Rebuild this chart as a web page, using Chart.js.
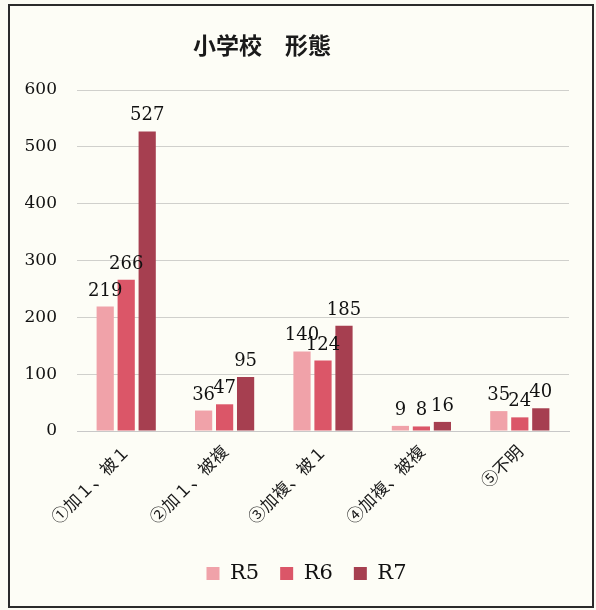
<!DOCTYPE html>
<html>
<head>
<meta charset="utf-8">
<script src="https://cdn.jsdelivr.net/npm/chart.js@4/dist/chart.umd.min.js"></script>
<style>
    html, body { margin: 0; padding: 0; background: #fcfcf4; }
    #frame {
        position: absolute; left: 8px; top: 4px;
        width: 582px; height: 600px;
        border: 2px solid #2b2b2b;
        background: #fdfdf6;
    }
    canvas { display: block; }
</style>
</head>
<body>
<div id="frame"><canvas id="formChart" width="582" height="600"></canvas></div>
<script>
const chartTitle = '小学校　形態';
const categories = ['①加１、被１', '②加１、被複', '③加複、被１', '④加複、被複', '⑤不明'];
const seriesNames = ['R5', 'R6', 'R7'];
const valuesR5 = [219, 36, 140, 9, 35];
const valuesR6 = [266, 47, 124, 8, 24];
const valuesR7 = [527, 95, 185, 16, 40];
const yTicks = [0, 100, 200, 300, 400, 500, 600];

const colors = ['#f0a2a9', '#db5668', '#a63f50'];
const serif = '"DejaVu Serif", "Liberation Serif", serif';
const cjk = '"Noto Sans CJK JP", "Noto Sans", sans-serif';

/* Titel links von der Mitte, wie im Original */
const titlePlugin = {
    id: 'offsetTitle',
    afterDraw(chart) {
        const ctx = chart.ctx;
        ctx.save();
        ctx.font = 'bold 23px ' + cjk;
        ctx.fillStyle = '#1a1a1a';
        ctx.textAlign = 'center';
        ctx.textBaseline = 'middle';
        ctx.fillText(chartTitle, 252, 39);
        ctx.restore();
    }
};

/* Legende etwas nach rechts, wie im Original */
const legendShift = {
    id: 'legendShift',
    beforeDraw(chart) {
        if (chart.legend && !chart.legend._shifted) {
            chart.legend.left += 17;
            chart.legend.right += 17;
            chart.legend._shifted = true;
        }
    }
};

/* Werte über den Balken */
const valueLabels = {
    id: 'valueLabels',
    afterDatasetsDraw(chart) {
        const ctx = chart.ctx;
        ctx.save();
        ctx.font = '18px ' + serif;
        ctx.fillStyle = '#111';
        ctx.textAlign = 'center';
        ctx.textBaseline = 'alphabetic';
        chart.data.datasets.forEach((ds, i) => {
            chart.getDatasetMeta(i).data.forEach((bar, j) => {
                ctx.fillText(String(ds.data[j]), bar.x, bar.y - 11);
            });
        });
        ctx.restore();
    }
};

new Chart(document.getElementById('formChart').getContext('2d'), {
    type: 'bar',
    data: {
        labels: categories,
        datasets: [valuesR5, valuesR6, valuesR7].map((data, i) => ({
            label: seriesNames[i],
            data,
            backgroundColor: colors[i],
            borderWidth: 0,
            categoryPercentage: 0.64,
            barPercentage: 0.82
        }))
    },
    options: {
        responsive: false,
        animation: false,
        layout: { padding: { top: 84, right: 23, left: 0, bottom: 12 } },
        plugins: {
            title: { display: false },
            tooltip: { enabled: false },
            legend: {
                position: 'bottom',
                labels: {
                    boxWidth: 13,
                    boxHeight: 13,
                    padding: 21,
                    color: '#111',
                    font: { family: serif, size: 21 }
                }
            }
        },
        scales: {
            x: {
                grid: { display: false },
                border: { display: true, color: '#c8c8c8' },
                ticks: {
                    maxRotation: 45,
                    minRotation: 45,
                    padding: 2,
                    color: '#1a1a1a',
                    font: { family: cjk, size: 17 }
                },
                afterFit(scale) { scale.height = 111; }
            },
            y: {
                min: 0,
                max: 600,
                border: { display: false },
                grid: { color: '#d0d0cc', drawTicks: false },
                afterBuildTicks(scale) { scale.ticks = yTicks.map((v) => ({ value: v })); },
                ticks: {
                    padding: 20,
                    color: '#111',
                    font: { family: serif, size: 17 }
                },
                afterFit(scale) { scale.width = 67; }
            }
        }
    },
    plugins: [titlePlugin, legendShift, valueLabels]
});
</script>
</body>
</html>
